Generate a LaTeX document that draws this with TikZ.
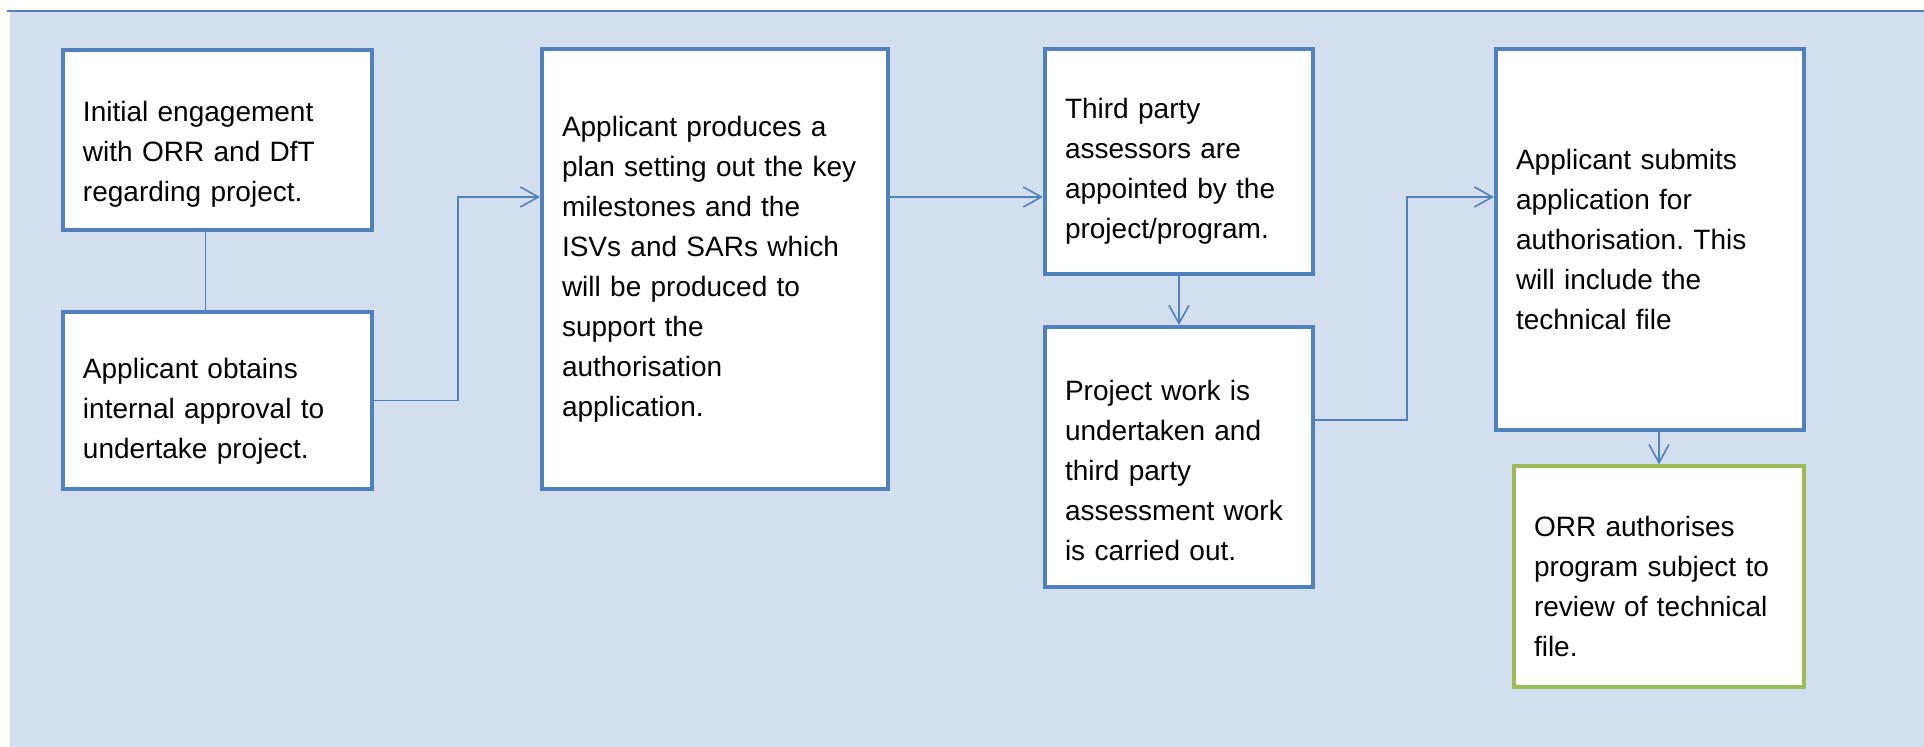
\documentclass[tikz,border=0pt]{standalone}
\usepackage{fontspec}
\setmainfont{Liberation Sans}
\frenchspacing
\usetikzlibrary{arrows.meta}
\definecolor{boxblue}{HTML}{4F81BD}
\definecolor{panel}{HTML}{D3DFEE}
\definecolor{boxgreen}{HTML}{9BBB59}
\tikzstyle{process} = [rectangle, align=left, inner xsep=10pt, draw=boxblue, line width=2pt, fill=white, font=\fontsize{14pt}{20pt}\selectfont]
\tikzstyle{process2} = [process, draw=boxgreen, line width=1.8pt]
\tikzstyle{lowered} = [execute at begin node={\rule{0pt}{#1}}]
\tikzstyle{link} = [draw=boxblue, line width=0.8pt, -{Straight Barb[length=9pt,width=10pt]}]
\tikzstyle{plain} = [draw=boxblue, line width=0.8pt]

\begin{document}
\begin{tikzpicture}[x=0.5pt, y=-0.5pt]
\useasboundingbox (0,0) rectangle (1924,747);
\fill [panel] (10,12) rectangle (1924,747);
\draw [boxblue, line width=1pt] (7,11) -- (1924,11);
\coordinate (row) at (0,197);
\node (init) [process, lowered=24pt, text width=134.5pt, minimum height=90pt] at (217.5,140) {Initial engagement\\with ORR and DfT\\regarding project.};
\node (approve) [process, lowered=21pt, text width=134.5pt, minimum height=88.5pt] at (217.5,400.5) {Applicant obtains\\internal approval to\\undertake project.};
\node (plan) [process, text width=153pt, minimum height=220pt] at (715,269) {Applicant produces a\\plan setting out the key\\milestones and the\\ISVs and SARs which\\will be produced to\\support the\\authorisation\\application.};
\node (assess) [process, lowered=20pt, text width=114pt, minimum height=112.5pt] at (1179,161.5) {Third party\\assessors are\\appointed by the\\project/program.};
\node (work) [process, lowered=24pt, text width=114pt, minimum height=130pt] at (1179,457) {Project work is\\undertaken and\\third party\\assessment work\\is carried out.};
\node (submit) [process, text width=134pt, minimum height=190.5pt] at (1650,239.5) {Applicant submits\\application for\\authorisation. This\\will include the\\technical file};
\node (authorise) [process2, lowered=20pt, text width=125pt, minimum height=110.5pt] at (1659,576.5) {ORR authorises\\program subject to\\review of technical\\file.};
\draw [plain] ([xshift=-6pt]init.south) -- ([xshift=-6pt]approve.north);
\draw [link] (approve.east) -- ++(84,0) |- (plan.west |- row);
\draw [link] (plan.east |- row) -- (assess.west |- row);
\draw [link] (assess) -- (work);
\draw [link] ([yshift=18.5pt]work.east) -- ++(92,0) |- (submit.west |- row);
\draw [link] (authorise.north |- submit.south) -- (authorise.north);
\end{tikzpicture}
\end{document}
